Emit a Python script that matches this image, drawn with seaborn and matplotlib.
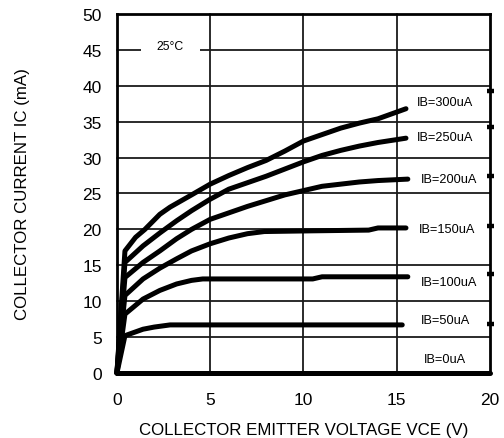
import matplotlib
matplotlib.use("Agg")
import matplotlib.pyplot as plt
import seaborn as sns
import pandas as pd

# Collector characteristic curves (VCE in V, IC in mA) for each base current
ib_labels = ["IB=300uA", "IB=250uA", "IB=200uA", "IB=150uA", "IB=100uA", "IB=50uA", "IB=0uA"]

vce_300 = [0, 0.43, 1.0, 1.5, 2.3, 2.85, 4.0, 5.0, 6.0, 7.0, 8.0, 9.0, 10.0, 11.0, 12.0, 13.0, 14.0, 15.5]
ic_300 = [0, 17.0, 18.9, 20.0, 22.1, 23.1, 24.8, 26.3, 27.5, 28.6, 29.6, 30.9, 32.3, 33.2, 34.1, 34.8, 35.4, 36.8]

vce_250 = [0, 0.43, 1.4, 2.3, 3.2, 4.0, 5.0, 6.0, 7.0, 8.0, 9.0, 10.0, 11.0, 12.0, 13.0, 14.0, 15.5]
ic_250 = [0, 15.4, 17.7, 19.5, 21.2, 22.6, 24.2, 25.6, 26.5, 27.4, 28.4, 29.4, 30.3, 31.0, 31.6, 32.1, 32.7]

vce_200 = [0, 0.43, 1.4, 2.3, 3.2, 4.0, 5.0, 6.0, 7.0, 8.0, 9.0, 10.0, 11.0, 12.0, 13.0, 14.0, 15.6]
ic_200 = [0, 13.3, 15.4, 17.0, 18.7, 20.0, 21.4, 22.3, 23.2, 24.0, 24.8, 25.4, 26.0, 26.3, 26.6, 26.8, 27.0]

vce_150 = [0, 0.43, 1.4, 2.3, 3.2, 4.0, 5.0, 6.0, 7.0, 7.9, 10.5, 13.5, 14.0, 15.5]
ic_150 = [0, 10.8, 13.1, 14.6, 15.9, 17.0, 18.0, 18.8, 19.4, 19.7, 19.8, 19.9, 20.2, 20.2]

vce_100 = [0, 0.43, 1.4, 2.3, 3.2, 4.0, 4.6, 5.5, 10.5, 11.0, 15.6]
ic_100 = [0, 8.2, 10.3, 11.5, 12.4, 12.9, 13.1, 13.1, 13.1, 13.4, 13.4]

vce_50 = [0, 0.43, 1.4, 2.0, 2.85, 15.3]
ic_50 = [0, 5.2, 6.1, 6.4, 6.7, 6.7]

vce_0 = [0, 20]
ic_0 = [0, 0]

# Label anchor positions (VCE, IC) for each curve tag
label_vce = [17.6, 17.6, 17.8, 17.7, 17.8, 17.6, 17.6]
label_ic = [37.7, 32.9, 27.0, 20.1, 12.7, 7.4, 2.0]

# Short tick stubs along the right edge
stub_ic = [39.3, 34.2, 27.5, 20.5, 13.8, 6.8]

x_ticks = [0, 5, 10, 15, 20]
y_ticks = [0, 5, 10, 15, 20, 25, 30, 35, 40, 45, 50]

series = [
    (vce_300, ic_300), (vce_250, ic_250), (vce_200, ic_200),
    (vce_150, ic_150), (vce_100, ic_100), (vce_50, ic_50), (vce_0, ic_0),
]
rows = []
for name, (vs, cs) in zip(ib_labels, series):
    for v, c in zip(vs, cs):
        rows.append({"IB": name, "VCE": v, "IC": c})
df = pd.DataFrame(rows)

sns.set_theme(style="white")
plt.rcParams["font.family"] = ["Liberation Sans", "DejaVu Sans"]

fig = plt.figure(figsize=(5.04, 4.39), dpi=100)
ax = fig.add_axes([0.232, 0.148, 0.740, 0.818])

# Grid (the 20 mA line stops at 15 V, leaving room for the IB=150uA tag)
for gx in [5, 10, 15]:
    ax.axvline(gx, color="#1a1a1a", lw=1.3, zorder=1)
for gy in [5, 10, 15, 25, 30, 35, 40, 45]:
    ax.axhline(gy, color="#1a1a1a", lw=1.3, zorder=1)
ax.axhline(20, xmin=0, xmax=0.75, color="#1a1a1a", lw=1.3, zorder=1)

sns.lineplot(
    data=df, x="VCE", y="IC", hue="IB",
    palette=["black"] * len(ib_labels), estimator=None, sort=False,
    lw=3.6, legend=False, ax=ax, zorder=3,
)
for line in ax.get_lines():
    line.set_clip_on(False)

for name, lv, li in zip(ib_labels, label_vce, label_ic):
    ax.text(lv, li, name, fontsize=9.2, ha="center", va="center", color="black", zorder=4)

ax.text(2.85, 45.6, "25°C", fontsize=8.8, ha="center", va="center", color="black", zorder=4,
        bbox=dict(boxstyle="square,pad=1.3", fc="white", ec="none"))

for s in stub_ic:
    ax.plot([19.85, 20.22], [s, s], color="black", lw=3.2, solid_capstyle="butt",
            clip_on=False, zorder=5)

ax.set_xlim(0, 20)
ax.set_ylim(0, 50)
ax.set_xticks(x_ticks)
ax.set_yticks(y_ticks)
ax.tick_params(axis="both", length=0, labelsize=12.5, colors="black")
ax.tick_params(axis="x", pad=14)
ax.tick_params(axis="y", pad=11)
ax.set_xlabel("COLLECTOR EMITTER VOLTAGE VCE (V)", fontsize=12.2, color="black")
ax.xaxis.set_label_coords(0.5, -0.137)
ax.set_ylabel("COLLECTOR CURRENT IC (mA)", fontsize=12.2, color="black")
ax.yaxis.set_label_coords(-0.234, 0.5)

for side in ["top", "right", "left", "bottom"]:
    ax.spines[side].set_color("black")
    ax.spines[side].set_linewidth(2.0)

fig.savefig("out.png", dpi=100, facecolor="white")
